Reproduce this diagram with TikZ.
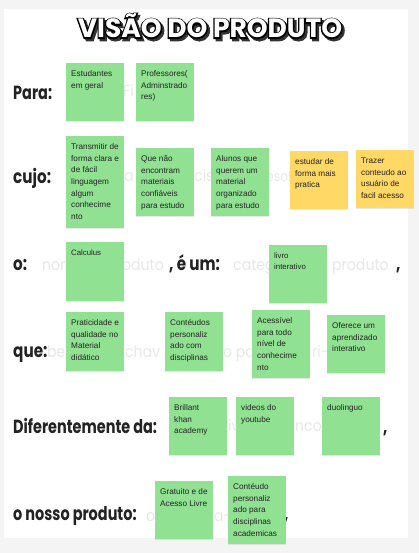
\documentclass[tikz,border=0pt]{standalone}
\usepackage{fontspec}
\setmainfont{Liberation Sans}
\newfontfamily\labfont[FakeStretch=0.8]{Poppins}
\newfontfamily\hlabfont[FakeStretch=0.76]{Poppins}
\newfontfamily\faintfont[FakeStretch=0.88]{Poppins}
\newfontfamily\titlefont{Poppins}
\newfontfamily\titleboldfont[FakeBold=10]{Poppins}
\usetikzlibrary{shadows}
\definecolor{pagegray}{RGB}{244,244,244}
\definecolor{notegreen}{RGB}{145,225,147}
\definecolor{noteyellow}{RGB}{255,216,102}
\definecolor{notetextcol}{RGB}{35,35,35}
\definecolor{labcol}{RGB}{35,35,35}
\definecolor{faintcol}{RGB}{232,232,232}
\newcommand\ntlines[1]{\parbox[t]{80pt}{\raggedright #1}}
\tikzset{
  note/.style={fill=notegreen, draw=none, anchor=north west, inner sep=0pt,
    minimum width=58pt, minimum height=#1,
    drop shadow={shadow xshift=0pt, shadow yshift=-1.2pt, opacity=0.18}},
  ynote/.style={note=#1, fill=noteyellow},
  ntext/.style={anchor=base west, inner sep=0pt, text=notetextcol,
    font=\fontsize{8.2}{11.7}\selectfont},
  lab/.style={anchor=base west, inner sep=0pt, text=labcol,
    font=\hlabfont\bfseries\fontsize{19}{19}\selectfont},
  blab/.style={lab, font=\labfont\bfseries\fontsize{19}{19}\selectfont},
  faint/.style={anchor=base west, inner sep=0pt, text=faintcol,
    font=\faintfont\fontsize{16}{16}\selectfont},
  ttl/.style={inner sep=0pt, font=\titlefont\bfseries\fontsize{26.5}{26.5}\selectfont},
  ttlb/.style={inner sep=0pt, font=\titleboldfont\bfseries\fontsize{26.5}{26.5}\selectfont},
}
\begin{document}
\begin{tikzpicture}[x=1pt,y=-1pt]
\useasboundingbox (0,0) rectangle (419,553);
\fill[pagegray] (0,0) rectangle (419,553);
\fill[white] (4,9) rectangle (408,538);

% title: shadow, outline, white face
\node[ttlb, text=black!80] (tshadow) at (212.2,28.2) {VISÃO DO PRODUTO};
\node[ttlb, text=black] (toutline) at (210,26) {VISÃO DO PRODUTO};
\node[ttl, text=white] (title) at (210,26) {VISÃO DO PRODUTO};

% faint placeholder fragments (visible between the notes)
\node[faint] (f1) at (123,97) {Fi};
\node[faint] (f2) at (124,182) {a};
\node[faint] (f3) at (194,182) {cis};
\node[faint, font=\faintfont\fontsize{14}{14}\selectfont] (f4) at (266,182) {esol};
\node[faint] (f5) at (42,270) {nom};
\node[faint, anchor=base east] (f6) at (164,270) {oduto};
\node[faint] (f7) at (233,270) {categ};
\node[faint] (f8) at (332,270) {produto};
\node[faint] (f9) at (47,357) {be};
\node[faint] (f10) at (125,357) {chav};
\node[faint] (f11) at (223,357) {o par};
\node[faint] (f12) at (312,357) {ri-};
\node[faint] (f13) at (228,431) {iv};
\node[faint] (f14) at (295,431) {ncor};
\node[faint] (f15) at (146,521) {o};
\node[faint] (f16) at (214,521) {a-};

% labels
\node[lab] (lpara) at (13,100) {Para:};
\node[blab] (lcujo) at (13,183) {cujo:};
\node[blab] (lo) at (13,270) {o:};
\node[blab] (leum) at (169,270) {, é um:};
\node[blab] (lc1) at (396,270) {,};
\node[blab] (lque) at (13,357) {que:};
\node[lab] (ldif) at (13,433) {Diferentemente da:};
\node[blab] (lc2) at (383,433) {,};
\node[lab] (lnosso) at (13,520) {o nosso produto:};
\node[blab] (lc3) at (284,520) {,};

% notes row: Para
\node[note=58pt] (n1) at (66,63) {};
\node[ntext] (t1) at ([shift={(5,13.5)}]n1.north west) {\ntlines{Estudantes\\em geral}};
\node[note=58pt] (n2) at (136,63) {};
\node[ntext] (t2) at ([shift={(5,13.5)}]n2.north west) {\ntlines{Professores(\\Adminstrado\\res)}};

% row: cujo
\node[note=92pt] (n3) at (66,136) {};
\node[ntext] (t3) at ([shift={(5,13.5)}]n3.north west) {\ntlines{Transmitir de\\forma clara e\\de fácil\\linguagem\\algum\\conhecime\\nto}};
\node[note=68pt] (n4) at (136,148) {};
\node[ntext] (t4) at ([shift={(5,13.5)}]n4.north west) {\ntlines{Que não\\encontram\\materiais\\confiáveis\\para estudo}};
\node[note=68pt] (n5) at (211,148) {};
\node[ntext] (t5) at ([shift={(5,13.5)}]n5.north west) {\ntlines{Alunos que\\querem um\\material\\organizado\\para estudo}};
\node[ynote=58pt] (n6) at (290,151) {};
\node[ntext] (t6) at ([shift={(5,13.5)}]n6.north west) {\ntlines{estudar de\\forma mais\\pratica}};
\node[ynote=58pt] (n7) at (356,150) {};
\node[ntext] (t7) at ([shift={(5,13.5)}]n7.north west) {\ntlines{Trazer\\conteudo ao\\usuário de\\facil acesso}};

% row: o / e um
\node[note=59pt] (n8) at (66,242) {};
\node[ntext, font=\fontsize{7.8}{11.7}\selectfont] (t8) at ([shift={(5,13)}]n8.north west) {\ntlines{Calculus}};
\node[note=58pt] (n9) at (269,245) {};
\node[ntext, font=\fontsize{7.8}{11.7}\selectfont] (t9) at ([shift={(5,13)}]n9.north west) {\ntlines{livro\\interativo}};

% row: que
\node[note=59pt] (n10) at (66,312) {};
\node[ntext] (t10) at ([shift={(5,13.5)}]n10.north west) {\ntlines{Praticidade e\\qualidade no\\Material\\didático}};
\node[note=59pt] (n11) at (165,312) {};
\node[ntext] (t11) at ([shift={(5,13.5)}]n11.north west) {\ntlines{Contéudos\\personaliz\\ado com\\disciplinas}};
\node[note=68pt] (n12) at (252,310) {};
\node[ntext] (t12) at ([shift={(5,13.5)}]n12.north west) {\ntlines{Acessível\\para todo\\nível de\\conhecime\\nto}};
\node[note=58pt] (n13) at (327,315) {};
\node[ntext] (t13) at ([shift={(5,13.5)}]n13.north west) {\ntlines{Oferece um\\aprendizado\\interativo}};

% row: Diferentemente da
\node[note=58pt] (n14) at (169,397) {};
\node[ntext] (t14) at ([shift={(5,13.5)}]n14.north west) {\ntlines{Brillant\\khan\\academy}};
\node[note=58pt] (n15) at (236,397) {};
\node[ntext] (t15) at ([shift={(5,13.5)}]n15.north west) {\ntlines{videos do\\youtube}};
\node[note=58pt] (n16) at (322,397) {};
\node[ntext] (t16) at ([shift={(5,13.5)}]n16.north west) {\ntlines{duolinguo}};

% row: o nosso produto
\node[note=58pt] (n17) at (155,481) {};
\node[ntext] (t17) at ([shift={(5,13.5)}]n17.north west) {\ntlines{Gratuito e de\\Acesso Livre}};
\node[note=68pt] (n18) at (228,476) {};
\node[ntext] (t18) at ([shift={(5,13.5)}]n18.north west) {\ntlines{Contéudo\\personaliz\\ado para\\disciplinas\\academicas}};
\end{tikzpicture}
\end{document}
